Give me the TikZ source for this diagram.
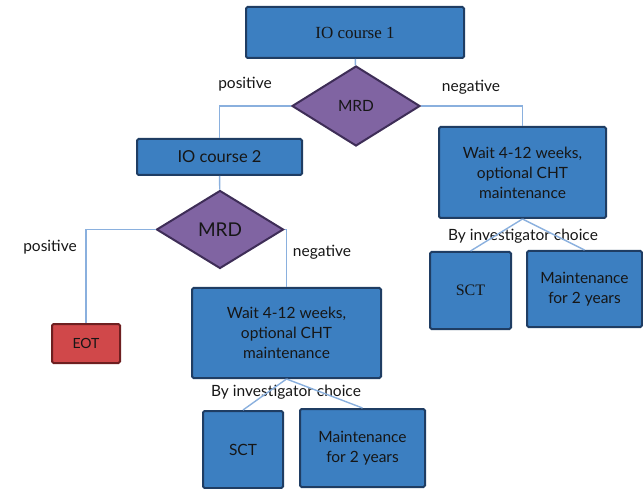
\documentclass[tikz,border=0pt]{standalone}
\usepackage{fontspec}
\setmainfont{Lato}
\newfontfamily\seriffont{Liberation Serif}
\usetikzlibrary{shapes.geometric}
\definecolor{boxblue}{HTML}{3C7FC1}
\definecolor{boxedge}{HTML}{1F3D63}
\definecolor{mrdpurple}{HTML}{8064A2}
\definecolor{mrdedge}{HTML}{3E2D57}
\definecolor{eotred}{HTML}{D0484A}
\definecolor{eotedge}{HTML}{6E1F20}
\definecolor{linkblue}{HTML}{8AB0DE}
\definecolor{txtgray}{HTML}{161616}
\begin{document}
\begin{tikzpicture}[x=1pt, y=-1pt,
        every node/.style={text=txtgray, font=\fontsize{15.5}{20}\selectfont},
        box/.style={rectangle, draw=boxedge, fill=boxblue, line width=2pt, rounded corners=1.5pt, inner sep=0pt, align=center},
        dia/.style={diamond, draw=mrdedge, fill=mrdpurple, line width=2pt, inner sep=0pt, minimum width=128, minimum height=80},
        line/.style={draw=linkblue, line width=1.4pt}
    ]
        \useasboundingbox (0,0) rectangle (643,489);

        % First course
        \node (io1) [box, minimum width=218, minimum height=51, font=\seriffont\fontsize{17}{20}\selectfont] at (355,32.5) {IO course 1};
        \node (mrd1) [dia] at (356,106) {MRD};

        % Second course
        \node (io2) [box, minimum width=165, minimum height=36, font=\fontsize{16.5}{20}\selectfont] at (219.5,157) {IO course 2};
        \node (mrd2) [dia, minimum width=127, minimum height=78, font=\fontsize{19}{22}\selectfont] at (220,229.5) {MRD};
        \node (eot) [box, draw=eotedge, fill=eotred, minimum width=68, minimum height=39, font=\fontsize{14}{18}\selectfont] at (86,343.5) {EOT};

        % Waiting boxes
        \node (wait1) [box, minimum width=167, minimum height=91] at (522.5,172.5) {Wait 4-12 weeks,\\optional CHT\\maintenance};
        \node (wait2) [box, minimum width=189, minimum height=90] at (286.5,333) {Wait 4-12 weeks,\\optional CHT\\maintenance};

        % Choices
        \node (sct1) [box, minimum width=81, minimum height=77, font=\seriffont\fontsize{16}{20}\selectfont] at (470.5,290.5) {SCT};
        \node (mnt1) [box, minimum width=115, minimum height=76] at (584.5,289) {Maintenance\\for 2 years};
        \node (sct2) [box, minimum width=80, minimum height=77] at (243,449.5) {SCT};
        \node (mnt2) [box, minimum width=125, minimum height=78] at (362.5,448) {Maintenance\\for 2 years};

        % Labels
        \node (pos1) at (245,84) {positive};
        \node (neg1) at (471,87) {negative};
        \node (pos2) at (50,247) {positive};
        \node (neg2) at (322,252) {negative};
        \node (by1) at (523,236) {By investigator choice};
        \node (by2) at (286,392) {By investigator choice};

        % Connectors
        \draw[line] (io1) -- (mrd1);
        \draw[line] (mrd1.west) -| (io2.north);
        \draw[line] (mrd1.east) -| (wait1.north);
        \draw[line] (io2) -- (mrd2);
        \draw[line] (mrd2.west) -| (eot.north);
        \draw[line] (mrd2.east) -| (wait2.north);
        \draw[line] (wait1.south) -- (sct1.north);
        \draw[line] (wait1.south) -- (mnt1.north);
        \draw[line] (wait2.south) -- (sct2.north);
        \draw[line] (wait2.south) -- (mnt2.north);
    \end{tikzpicture}
\end{document}
